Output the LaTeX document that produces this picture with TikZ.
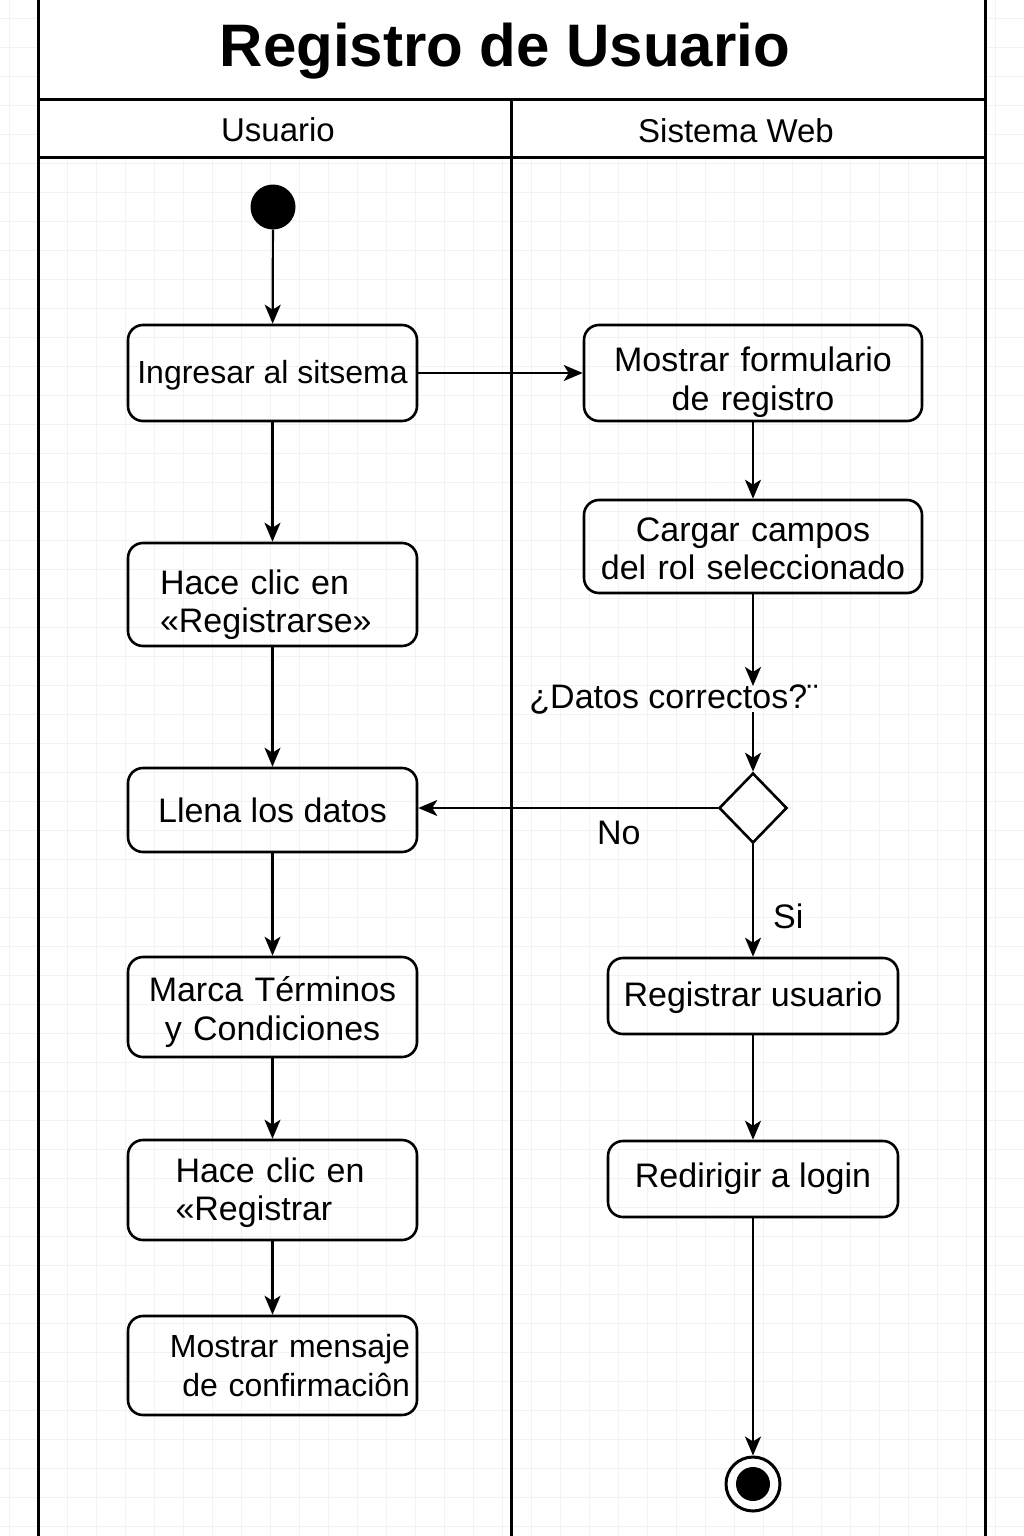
\documentclass[tikz,border=0pt]{standalone}
\usepackage{fontspec}
\setmainfont{Liberation Sans}
\usetikzlibrary{shapes.geometric,arrows.meta}
\tikzset{
  lane/.style={line width=3pt, black},
  gridline/.style={draw=black!5, line width=0.8pt},
  actbox/.style={draw, line width=2.6pt, rounded corners=15pt, inner sep=0pt, align=center,
    font=\fontsize{34}{38.5}\selectfont},
  small/.style={font=\fontsize{32}{38.5}\selectfont},
  tdown/.style={execute at begin node={\rule{0pt}{#1pt}}},
  flow/.style={line width=2.2pt, -{Stealth[length=19pt,width=16pt,inset=5pt]}},
  lbl/.style={font=\fontsize{34}{38.5}\selectfont, inner sep=0pt},
  decision/.style={draw, diamond, line width=2.6pt, inner sep=0pt, minimum width=68pt, minimum height=70pt},
}
\begin{document}
\begin{tikzpicture}[x=1pt,y=-1pt]
\useasboundingbox (0,0) rectangle (1024,1536);
\fill[white] (0,0) rectangle (1024,1536);
% faint grid
\foreach \gx in {9,38,67,96,125,154,183,212,241,270,299,328,357,386,415,444,473,502,531,560,589,618,647,676,705,734,763,792,821,850,879,908,937,966,995,1024}
  \draw[gridline] (\gx,0) -- (\gx,1536);
\foreach \gy in {18,47,76,105,134,163,192,221,250,279,308,337,366,395,424,453,482,511,540,569,598,627,656,685,714,743,772,801,830,859,888,917,946,975,1004,1033,1062,1091,1120,1149,1178,1207,1236,1265,1294,1323,1352,1381,1410,1439,1468,1497,1526}
  \draw[gridline] (0,\gy) -- (1024,\gy);
% swimlane frame
\fill[white] (38,0) rectangle (985,157);
\draw[lane] (38,0) -- (38,1536);
\draw[lane] (985,0) -- (985,1536);
\draw[lane] (38,100) -- (985,100);
\draw[lane] (38,157) -- (985,157);
\draw[lane] (511,100) -- (511,1536);
\node[font=\fontsize{60}{70}\selectfont\bfseries, inner sep=0pt] (title) at (505,51) {Registro de Usuario};
\node[lbl, font=\fontsize{33}{36}\selectfont] (laneU) at (278,130) {Usuario};
\node[lbl, font=\fontsize{33}{36}\selectfont] (laneS) at (736,131) {Sistema Web};

% start
\node[circle, fill=black, minimum size=45pt, inner sep=0pt] (start) at (273,207) {};

% left lane activities
\node[actbox, small, tdown=27, minimum width=289pt, minimum height=96pt] (ingresar) at (272.5,373) {Ingresar al sitsema};
\node[actbox, tdown=45, minimum width=289pt, minimum height=103pt, text width=225pt, align=left] (hace1) at (272.5,594.5) {Hace clic en\\«Registrarse»};
\node[actbox, minimum width=289pt, minimum height=84pt] (llena) at (272.5,810) {Llena los datos};
\node[actbox, tdown=35, minimum width=289pt, minimum height=100pt, text width=280pt, align=center] (marca) at (272.5,1007) {Marca Términos\\y Condiciones};
\node[actbox, tdown=30, minimum width=289pt, minimum height=100pt, text width=194pt, align=left] (hace2) at (272.5,1190) {Hace clic en\\«Registrar};
\node[actbox, small, minimum width=289pt, minimum height=99pt, text width=275pt, align=right] (msg) at (272.5,1365.5) {Mostrar mensaje\\de confirmaciôn};

% right lane activities
\node[actbox, tdown=43, minimum width=338pt, minimum height=96pt, text width=320pt, align=center] (mostrar) at (753,373) {Mostrar formulario\\de registro};
\node[actbox, tdown=28, minimum width=338pt, minimum height=93pt, text width=330pt, align=center] (cargar) at (753,546.5) {Cargar campos\\del rol seleccionado};
\node[lbl] (qlabel) at (674,700) {¿Datos correctos?¨};
\coordinate (qa) at (753,686);
\coordinate (qb) at (753,712);
\node[decision] (dec) at (753,808) {};
\node[actbox, tdown=28, minimum width=290pt, minimum height=76pt] (registrar) at (753,996) {Registrar usuario};
\node[actbox, minimum width=290pt, minimum height=76pt] (redirigir) at (753,1179) {Redirigir a login};
\node[circle, draw, line width=3pt, minimum size=54pt, inner sep=0pt] (end) at (753,1484) {};
\node[circle, fill=black, minimum size=34pt, inner sep=0pt] (endin) at (753,1484) {};

% connectors
\draw[flow] (start) -- (ingresar);
\draw[flow] (ingresar) -- (hace1);
\draw[flow] (hace1) -- (llena);
\draw[flow] (llena) -- (marca);
\draw[flow] (marca) -- (hace2);
\draw[flow] (hace2) -- (msg);
\draw[flow] (ingresar) -- (mostrar);
\draw[flow] (mostrar) -- (cargar);
\draw[flow] (cargar) -- (qa);
\draw[flow] (qb) -- (dec.north);
\draw[flow] (dec.west) -- (dec.west -| llena.east) node[lbl, pos=0.33, below=12pt] (no) {No};
\draw[flow] (dec.south) -- (registrar) node[lbl, pos=0.64, right=19pt] (si) {Si};
\draw[flow] (registrar) -- (redirigir);
\draw[flow] (redirigir) -- (end);
\end{tikzpicture}
\end{document}
